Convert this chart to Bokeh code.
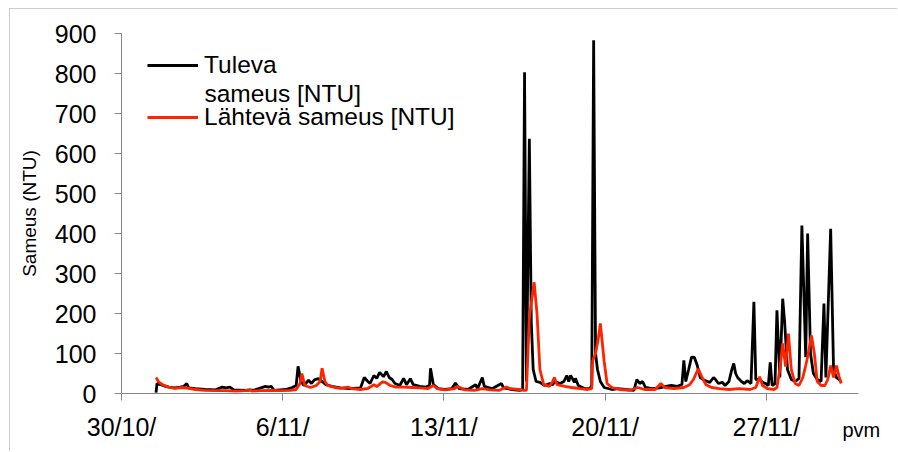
from bokeh.plotting import figure
from bokeh.models import FixedTicker, Legend, LegendItem, Label, ColumnDataSource, Range1d
from bokeh.embed import file_html
from bokeh.resources import INLINE

FONT = "Liberation Sans"

# x axis: days counted from 30/10 00:00
tick_days = [0, 7, 14, 21, 28]
tick_labels = ["30/10/", "6/11/", "13/11/", "20/11/", "27/11/"]
y_ticks = [0, 100, 200, 300, 400, 500, 600, 700, 800, 900]

# Incoming turbidity, hours from 30/10 00:00 and NTU
tuleva_hours = [36, 37, 41, 46, 51, 56, 61, 65, 68, 70, 77, 87, 98, 105, 109, 113, 117, 129, 139,
                150, 153, 156, 159, 171, 178, 182, 184, 187, 190, 195, 198, 201, 205, 209, 213,
                219, 228, 238, 249, 253, 256, 259, 263, 266, 269, 273, 276, 279, 282, 285, 290,
                294, 297, 301, 304, 311, 317, 321, 322, 325, 330, 337, 344, 348, 352, 361, 369,
                371, 376, 378, 386, 396, 398, 407, 415, 418, 420, 422, 425, 427, 429, 432, 436,
                441, 446, 449, 452, 457, 461, 464, 466, 468, 472, 473, 476, 483, 488, 490, 492,
                494, 496, 499, 503, 511, 517, 525, 534, 537, 540, 543, 546, 553, 561, 567, 573,
                579, 584, 586, 588, 591, 594, 597, 600, 603, 608, 613, 617, 619, 622, 626, 629,
                633, 636, 638, 640, 642, 646, 649, 652, 656, 659, 661, 665, 668, 671, 674, 676,
                678, 681, 683, 686, 689, 691, 694, 698, 702, 706, 709, 713, 715, 718, 721, 725,
                729, 732, 734, 739, 742, 745, 748, 750]
tuleva_ntu = [2, 25, 22, 18, 15, 14, 16, 18, 25, 14, 12, 10, 9, 16, 14, 16, 9, 8, 9,
              18, 16, 18, 8, 10, 15, 20, 68, 30, 20, 33, 25, 34, 37, 30, 22,
              18, 14, 12, 14, 40, 32, 25, 45, 38, 53, 42, 55, 40, 35, 25, 20,
              38, 22, 37, 22, 18, 16, 20, 63, 22, 12, 10, 12, 26, 12, 10, 22,
              12, 40, 18, 12, 25, 14, 10, 8, 10, 803, 30, 637, 180, 60, 30, 28,
              20, 25, 22, 30, 25, 30, 45, 30, 45, 28, 38, 20, 12, 12, 20, 883,
              100, 60, 30, 15, 10, 12, 10, 8, 35, 25, 30, 15, 12, 14, 18, 20,
              18, 22, 83, 30, 60, 91, 90, 70, 40, 32, 28, 40, 35, 25, 28, 20,
              30, 60, 75, 50, 40, 30, 25, 32, 25, 229, 35, 35, 28, 25, 20, 78,
              20, 25, 208, 40, 237, 180, 60, 35, 30, 38, 420, 91, 400, 100, 50, 35,
              30, 225, 40, 412, 60, 40, 35, 28]

# Outgoing turbidity
lahteva_hours = [36, 39, 43, 49, 56, 63, 70, 77, 87, 98, 108, 119, 129, 134, 136, 145, 155, 165,
                 176, 182, 186, 188, 191, 197, 203, 207, 209, 212, 215, 222, 228, 236, 240, 249,
                 257, 263, 266, 272, 275, 280, 286, 294, 303, 311, 319, 325, 329, 337, 347, 350,
                 358, 368, 376, 384, 394, 401, 405, 414, 419, 422, 425, 430, 433, 436, 440, 446,
                 449, 451, 454, 462, 469, 478, 486, 490, 491, 494, 497, 499, 503, 506, 511, 519,
                 530, 538, 545, 556, 562, 566, 576, 586, 592, 596, 601, 605, 609, 615, 623, 633,
                 644, 655, 661, 665, 668, 673, 680, 683, 686, 689, 692, 695, 698, 702, 706, 710,
                 713, 715, 719, 722, 725, 729, 733, 736, 739, 742, 745, 748, 750]
lahteva_ntu = [40, 28, 22, 16, 13, 15, 13, 10, 8, 7, 7, 6, 7, 10, 6, 7, 8, 7,
               8, 10, 25, 50, 20, 15, 20, 30, 63, 30, 20, 15, 13, 16, 12, 10,
               13, 22, 17, 29, 28, 20, 16, 16, 15, 14, 12, 20, 12, 9, 12, 18,
               9, 8, 12, 9, 8, 16, 12, 10, 8, 8, 190, 278, 200, 60, 22, 18,
               28, 40, 22, 18, 15, 12, 10, 12, 82, 100, 140, 175, 80, 25, 15, 10,
               8, 15, 10, 10, 25, 15, 12, 15, 22, 35, 62, 40, 22, 15, 12, 10,
               12, 10, 15, 42, 20, 12, 10, 15, 60, 125, 67, 150, 60, 25, 20, 40,
               70, 92, 145, 100, 30, 20, 20, 35, 70, 40, 70, 40, 25]

src_in = ColumnDataSource(dict(day=[h / 24 for h in tuleva_hours], ntu=tuleva_ntu))
src_out = ColumnDataSource(dict(day=[h / 24 for h in lahteva_hours], ntu=lahteva_ntu))

# The frame fills the whole canvas; both axes are pinned at zero and bounded,
# so tick labels and the titles around them stay inside the drawable area.
W, H = 888, 443
px_day = 737 / 32          # 32 days across the x axis
px_ntu = 360 / 900         # 900 NTU up the y axis
x0 = -111 / px_day
x1 = x0 + W / px_day
y1 = 900 + 24 / px_ntu
y0 = y1 - H / px_ntu

p = figure(width=W, height=H, x_range=Range1d(x0, x1), y_range=Range1d(y0, y1),
           output_backend="svg", toolbar_location=None,
           min_border_left=0, min_border_right=0, min_border_top=0, min_border_bottom=0)
p.margin = (8, 0, 0, 9)
p.styles = {"border-left": "1px solid #cccccc", "border-top": "1px solid #cccccc"}
p.outline_line_color = None
p.background_fill_color = "white"
p.border_fill_color = "white"
p.xgrid.visible = False
p.ygrid.visible = False

r_in = p.line("day", "ntu", source=src_in, line_color="#000000", line_width=2.8)
r_out = p.line("day", "ntu", source=src_out, line_color="#ff2400", line_width=2.8)

axis_grey = "#868686"
for ax in (p.xaxis[0], p.yaxis[0]):
    ax.axis_line_color = axis_grey
    ax.major_tick_line_color = axis_grey
    ax.minor_tick_line_color = None
    ax.major_tick_in = 0
    ax.major_tick_out = 7
    ax.major_label_text_font = FONT
    ax.major_label_text_font_size = "25px"
    ax.major_label_text_color = "black"
    ax.fixed_location = 0

p.xaxis.ticker = FixedTicker(ticks=tick_days)
p.xaxis.bounds = (0, 32)
p.xaxis.major_label_overrides = {d: lab for d, lab in zip(tick_days, tick_labels)}
p.xaxis.major_label_standoff = 12

p.yaxis.ticker = FixedTicker(ticks=y_ticks)
p.yaxis.bounds = (0, 900)
p.yaxis.major_label_standoff = 18
p.yaxis.axis_label = "Sameus (NTU)"
p.yaxis.axis_label_text_font = FONT
p.yaxis.axis_label_text_font_size = "19px"
p.yaxis.axis_label_text_font_style = "normal"
p.yaxis.axis_label_text_color = "black"
p.yaxis.axis_label_standoff = 12

legend = Legend(items=[LegendItem(label="Tuleva", renderers=[r_in]),
                       LegendItem(label="Lähtevä sameus [NTU]", renderers=[r_out])],
                location=(137, 319), border_line_color=None, background_fill_alpha=0,
                padding=0, margin=0, spacing=20, glyph_width=51, glyph_height=24,
                label_height=32, label_standoff=6, label_text_font=FONT,
                label_text_font_size="24.5px", label_text_color="black")
p.add_layout(legend)

# second line of the first legend entry
p.add_layout(Label(x=3.6, y=750, text="sameus [NTU]", text_font=FONT,
                   text_font_size="24.5px", text_baseline="alphabetic", text_color="black"))

# x axis title at the right end
p.add_layout(Label(x=31.3, y=-92, text="pvm", text_font=FONT, text_font_size="20px",
                   text_baseline="alphabetic", text_color="black"))

open("out.html", "w").write(file_html(p, INLINE))
